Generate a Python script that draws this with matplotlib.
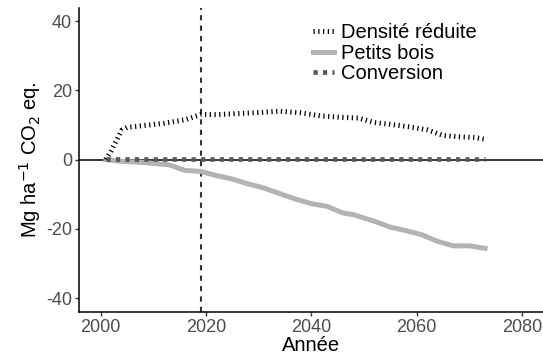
import matplotlib.pyplot as plt
import numpy as np

plt.rcParams['font.family'] = ['Liberation Sans', 'DejaVu Sans']
plt.rcParams['axes.unicode_minus'] = False

# Densité réduite
annees_dr = [2001, 2002, 2003, 2004, 2005, 2008, 2012, 2016, 2019, 2022, 2026,
             2030, 2034, 2038, 2042, 2046, 2049, 2052, 2055, 2059, 2062, 2065,
             2068, 2071, 2073]
densite_reduite = [0.0, 2.5, 5.5, 8.5, 9.3, 9.8, 10.5, 11.5, 13.0, 13.0, 13.3,
                   13.6, 14.0, 13.5, 12.6, 12.2, 12.0, 10.7, 10.2, 9.4, 8.6, 7.0,
                   6.6, 6.4, 5.9]

# Petits bois
annees_pb = [2001, 2004, 2008, 2013, 2016, 2019, 2022, 2025, 2028, 2031, 2034,
             2037, 2040, 2043, 2046, 2048, 2052, 2055, 2058, 2061, 2064, 2067,
             2070, 2073]
petits_bois = [0.0, -0.5, -0.8, -1.5, -3.1, -3.4, -4.6, -5.6, -7.0, -8.2, -9.8,
               -11.4, -12.7, -13.5, -15.4, -15.9, -17.8, -19.5, -20.5, -21.7,
               -23.6, -24.9, -24.9, -25.6]

# Conversion
annees_cv = [2001, 2073]
conversion = [0.3, 0.3]

annee_ref = 2019

fig = plt.figure(figsize=(5.43, 3.56), dpi=100)
ax = fig.add_axes([0.1455, 0.1236, 0.8545, 0.854])

ax.axhline(0, color='black', lw=1.1, zorder=1)
ax.axvline(annee_ref, color='#333333', lw=1.5, ls=(0, (2.5, 2.5)), zorder=1)

ax.plot(annees_dr, densite_reduite, color='black', lw=3.6,
        dashes=(0.25, 0.7), label='Densité réduite', zorder=3)
ax.plot(annees_pb, petits_bois, color='#b3b3b3', lw=3.6,
        label='Petits bois', zorder=2)
ax.plot(annees_cv, conversion, color='#5a5a5a', lw=3.4,
        dashes=(0.9, 1.1), label='Conversion', zorder=3)

ax.set_xlim(1995.9, 2084)
ax.set_ylim(-44, 43.8)
ax.set_xticks([2000, 2020, 2040, 2060, 2080])
ax.set_yticks([-40, -20, 0, 20, 40])

for s in ['top', 'right']:
    ax.spines[s].set_visible(False)
for s in ['left', 'bottom']:
    ax.spines[s].set_color('black')
    ax.spines[s].set_linewidth(1.1)
ax.tick_params(colors='#333333', labelcolor='#4d4d4d', labelsize=13,
               length=3, width=1, pad=2)

ax.set_xlabel('Année', fontsize=14.5, labelpad=0)
ax.set_ylabel('Mg ha$^{-1}$ CO$_2$ eq.', fontsize=14.5, labelpad=2)

ax.legend(loc='upper left', bbox_to_anchor=(0.505, 0.95), frameon=False,
          fontsize=14.5, handlelength=1.05, handletextpad=0.3, labelspacing=0.08,
          borderpad=0, borderaxespad=0)

fig.savefig('out.png', dpi=100)
